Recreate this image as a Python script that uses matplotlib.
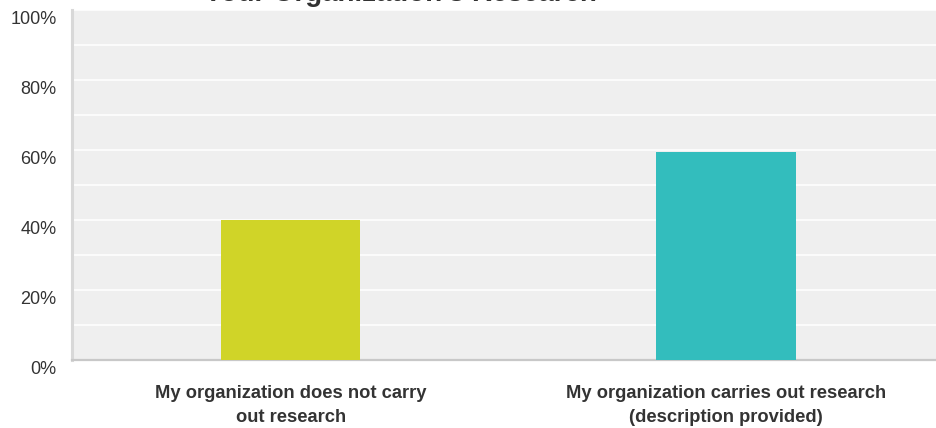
import matplotlib.pyplot as plt
from matplotlib.transforms import ScaledTranslation

categories = [
    "My organization does not carry\nout research",
    "My organization carries out research\n(description provided)",
]
percents = [40.1, 59.4]
bar_colors = ["#d0d428", "#33bdbd"]
y_ticks = [0, 20, 40, 60, 80, 100]
y_tick_labels = ["0%", "20%", "40%", "60%", "80%", "100%"]
title = "Your Organization's Research"

plt.rcParams["font.family"] = ["Liberation Sans", "DejaVu Sans"]

fig = plt.figure(figsize=(9.37, 4.28), dpi=100)
ax = fig.add_axes([72 / 937, 68 / 428, 865 / 937, 350 / 428])

ax.set_facecolor("#efefef")
x = list(range(len(categories)))
ax.bar(x, percents, width=0.32, color=bar_colors, zorder=3)

ax.set_xlim(-0.503, 1.485)
ax.set_ylim(0, 100)

# light white grid every 10%
ax.set_yticks(range(0, 101, 10), minor=True)
ax.grid(axis="y", which="both", color="white", linewidth=1.1, zorder=1)
ax.set_axisbelow(True)

ax.set_yticks(y_ticks)
ax.set_yticklabels(y_tick_labels, fontsize=13, color="#333333")
ax.tick_params(axis="y", which="both", length=0, pad=11)
for lbl in ax.get_yticklabels():
    lbl.set_transform(lbl.get_transform() + ScaledTranslation(0, -8 / 100, fig.dpi_scale_trans))

ax.set_xticks(x)
ax.set_xticklabels(categories, fontsize=13.2, fontweight="bold", color="#333333", linespacing=1.55)
ax.tick_params(axis="x", length=0, pad=18)

for side in ["top", "right"]:
    ax.spines[side].set_visible(False)
ax.spines["left"].set_color("#d8d8d8")
ax.spines["left"].set_linewidth(2.2)
ax.spines["bottom"].set_color("#c8c8c8")
ax.spines["bottom"].set_linewidth(1.6)

# title sits mostly above the visible area, as in the source
fig.text(400 / 937, 1 - 1 / 428, title, ha="center", va="baseline",
         fontsize=20, fontweight="bold", color="#333333")

fig.savefig("out.png", dpi=100)
